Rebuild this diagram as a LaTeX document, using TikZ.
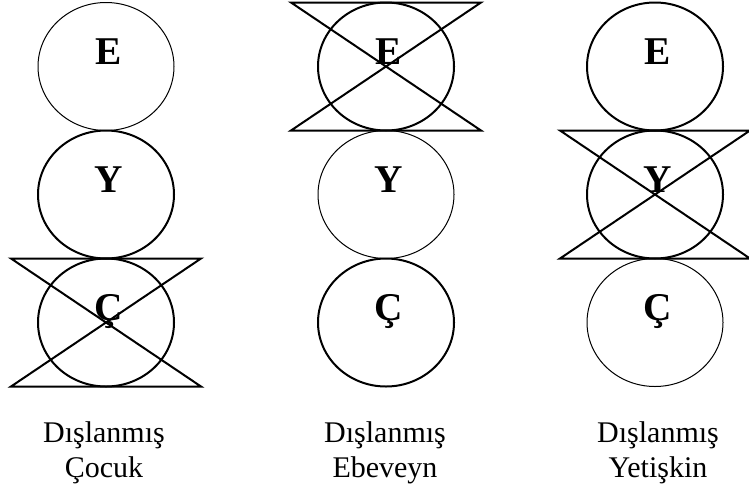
\documentclass[tikz,border=0pt]{standalone}
\usepackage{fontspec}
\setmainfont{Liberation Serif}
\usetikzlibrary{shapes.geometric}

\begin{document}
\begin{tikzpicture}[
    x=0.75pt, y=-0.75pt,
    ring/.style={ellipse, draw, minimum width=102pt, minimum height=96pt, inner sep=0pt, outer sep=0pt},
    thinring/.style={ring, line width=0.75pt},
    thickring/.style={ring, line width=1.5pt},
    letter/.style={anchor=base, inner sep=0pt, font=\fontsize{29.5}{32}\selectfont\bfseries},
    caption/.style={anchor=north, align=center, inner sep=0pt, font=\fontsize{22.5}{26.25}\selectfont},
    cross/.style={line width=1.5pt, line join=miter}
]
    \useasboundingbox (0,0) rectangle (749,493);

    % --- LEFT COLUMN (Cocuk crossed out) ---
    \node[thinring]  (E1) at (106,66.5) {};
    \node[thickring] (Y1) at (106,194.5) {};
    \node[thickring] (C1) at (106,322.5) {};

    \node[letter] (E1t) at (109,64) {E};
    \node[letter] (Y1t) at (109,192) {Y};
    \node[letter] (C1t) at (109,320) {Ç};

    \draw[cross] ([xshift=-71.25pt]C1.north) -- ([xshift=71.25pt]C1.north)
        -- ([xshift=-71.25pt]C1.south) -- ([xshift=71.25pt]C1.south) -- cycle;

    \node[caption] (cap1) at (104,421) {Dışlanmış\\Çocuk};

    % --- MIDDLE COLUMN (Ebeveyn crossed out) ---
    \node[thickring] (E2) at (386,66.5) {};
    \node[thinring]  (Y2) at (386,194.5) {};
    \node[thickring] (C2) at (386,322.5) {};

    \node[letter] (E2t) at (389,64) {E};
    \node[letter] (Y2t) at (389,192) {Y};
    \node[letter] (C2t) at (389,320) {Ç};

    \draw[cross] ([xshift=-71.25pt]E2.north) -- ([xshift=71.25pt]E2.north)
        -- ([xshift=-71.25pt]E2.south) -- ([xshift=71.25pt]E2.south) -- cycle;

    \node[caption] (cap2) at (385,421) {Dışlanmış\\Ebeveyn};

    % --- RIGHT COLUMN (Yetiskin crossed out) ---
    \node[thickring] (E3) at (655,66.5) {};
    \node[thickring] (Y3) at (655,194.5) {};
    \node[thinring]  (C3) at (655,322.5) {};

    \node[letter] (E3t) at (658,64) {E};
    \node[letter] (Y3t) at (658,192) {Y};
    \node[letter] (C3t) at (658,320) {Ç};

    \draw[cross] ([xshift=-71.25pt]Y3.north) -- ([xshift=71.25pt]Y3.north)
        -- ([xshift=-71.25pt]Y3.south) -- ([xshift=71.25pt]Y3.south) -- cycle;

    \node[caption] (cap3) at (658,421) {Dışlanmış\\Yetişkin};

\end{tikzpicture}
\end{document}
